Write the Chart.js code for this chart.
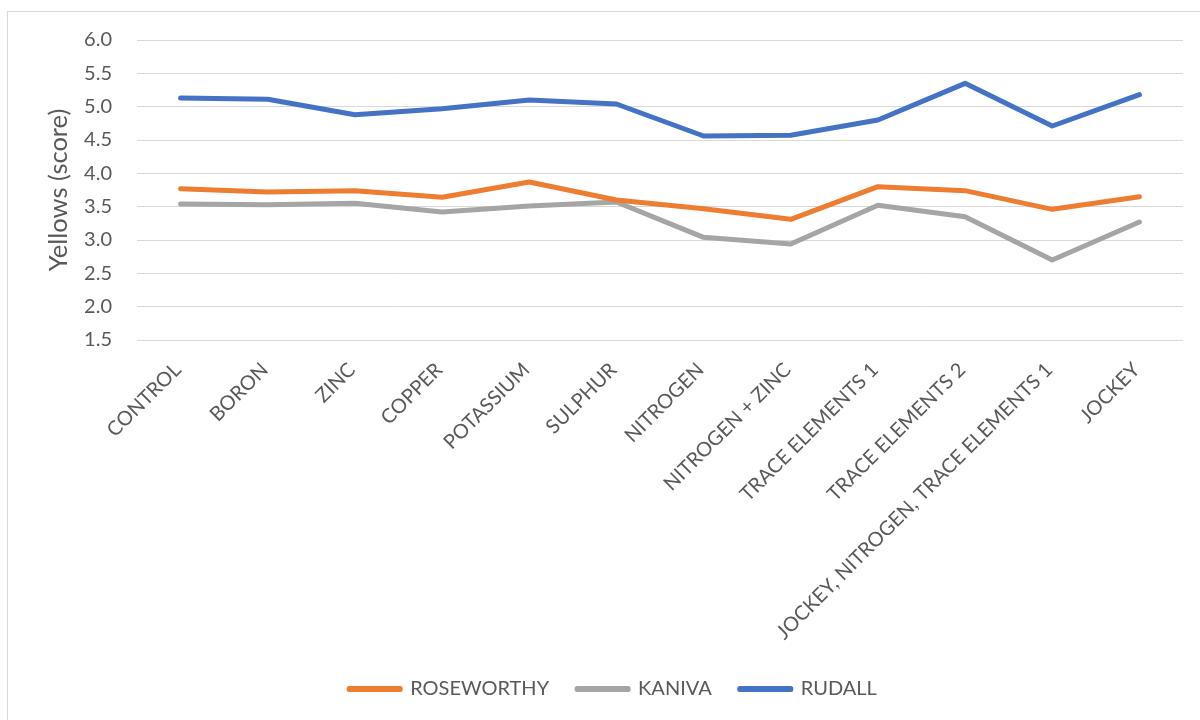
<!DOCTYPE html>
<html lang="en">

<head>
    <meta charset="UTF-8">
    <title>Yellows (score) by treatment</title>
    <script src="https://cdn.jsdelivr.net/npm/chart.js"></script>
    <style>
        * {
            margin: 0;
            padding: 0;
            box-sizing: border-box;
        }

        body {
            width: 1200px;
            height: 720px;
            overflow: hidden;
            background: #ffffff;
            position: relative;
        }

        /* Excel style chart frame, runs off the right and bottom edge */
        .frame {
            position: absolute;
            left: 7px;
            top: 11px;
            width: 1220px;
            height: 740px;
            border: 1px solid #d9d9d9;
        }

        canvas {
            position: absolute;
            left: 0;
            top: 0;
        }
    </style>
</head>

<body>
    <div class="frame"></div>
    <canvas id="lineChart" width="1200" height="720"></canvas>

    <script>
        // data
        const treatments = ['CONTROL', 'BORON', 'ZINC', 'COPPER', 'POTASSIUM', 'SULPHUR', 'NITROGEN',
            'NITROGEN + ZINC', 'TRACE ELEMENTS 1', 'TRACE ELEMENTS 2',
            'JOCKEY, NITROGEN, TRACE ELEMENTS 1', 'JOCKEY'];
        const roseworthy = [3.77, 3.72, 3.74, 3.64, 3.87, 3.60, 3.47, 3.31, 3.80, 3.74, 3.46, 3.65];
        const kaniva = [3.54, 3.53, 3.55, 3.42, 3.51, 3.57, 3.04, 2.94, 3.52, 3.35, 2.70, 3.27];
        const rudall = [5.13, 5.11, 4.88, 4.97, 5.10, 5.04, 4.56, 4.57, 4.80, 5.35, 4.71, 5.18];
        const yTicks = [1.5, 2.0, 2.5, 3.0, 3.5, 4.0, 4.5, 5.0, 5.5, 6.0];

        const textColor = '#595959';
        const gridColor = '#d9d9d9';
        const fontFamily = 'Lato, "Open Sans", sans-serif';

        function lineSet(label, values, color) {
            return {
                label: label,
                data: values,
                borderColor: color,
                backgroundColor: color,
                borderWidth: 5,
                borderCapStyle: 'round',
                borderJoinStyle: 'round',
                pointRadius: 0,
                tension: 0,
                fill: false
            };
        }

        const ctx = document.getElementById('lineChart').getContext('2d');
        const chart = new Chart(ctx, {
            type: 'line',
            data: {
                labels: treatments,
                datasets: [
                    lineSet('ROSEWORTHY', roseworthy, '#ed7d31'),
                    lineSet('KANIVA', kaniva, '#a5a5a5'),
                    lineSet('RUDALL', rudall, '#4472c4')
                ]
            },
            options: {
                responsive: false,
                animation: false,
                layout: {
                    // left padding nudges the legend right, like in the original
                    padding: { left: 26, top: 40, right: 0, bottom: 11 }
                },
                scales: {
                    x: {
                        offset: true,
                        grid: { display: false },
                        border: { display: false },
                        ticks: {
                            autoSkip: false,
                            minRotation: 45,
                            maxRotation: 45,
                            labelOffset: -3,
                            padding: 10,
                            color: textColor,
                            font: { family: fontFamily, size: 20 }
                        },
                        afterFit: function (scale) {
                            scale.height = 311;
                        }
                    },
                    y: {
                        min: yTicks[0],
                        max: yTicks[yTicks.length - 1],
                        grid: { color: gridColor, lineWidth: 1, drawTicks: false },
                        border: { display: false },
                        afterBuildTicks: function (scale) {
                            scale.ticks = yTicks.map(v => ({ value: v }));
                        },
                        ticks: {
                            padding: 25,
                            color: textColor,
                            font: { family: fontFamily, size: 20 },
                            callback: function (value) {
                                return Number(value).toFixed(1);
                            }
                        },
                        title: {
                            display: true,
                            text: 'Yellows (score)',
                            color: textColor,
                            padding: { top: 17, bottom: 0 },
                            font: { family: fontFamily, size: 25.5 }
                        },
                        afterFit: function (scale) {
                            scale.width = 111;
                        }
                    },
                    // empty right axis, only keeps the plot clear of the right edge
                    spacer: {
                        position: 'right',
                        grid: { display: false },
                        border: { display: false },
                        ticks: { display: false },
                        afterFit: function (scale) {
                            scale.width = 17;
                        }
                    }
                },
                plugins: {
                    legend: {
                        position: 'bottom',
                        labels: {
                            boxWidth: 51,
                            boxHeight: 1,
                            padding: 28,
                            color: textColor,
                            font: { family: fontFamily, size: 20 }
                        }
                    },
                    tooltip: { enabled: false }
                }
            }
        });
    </script>
</body>

</html>
